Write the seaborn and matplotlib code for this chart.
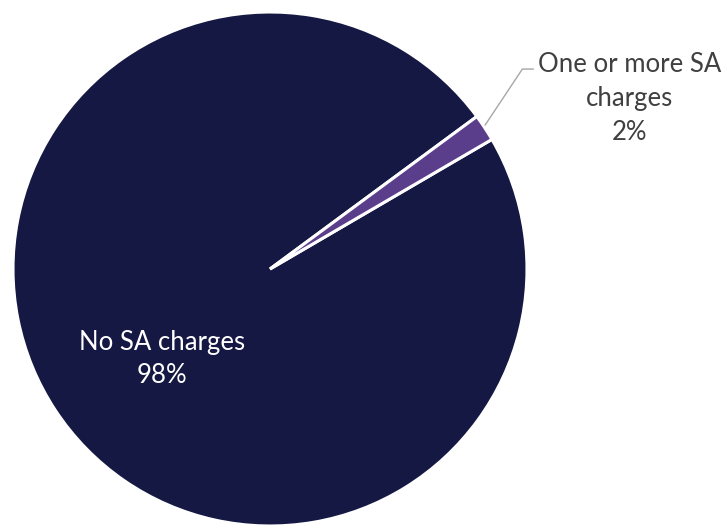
import matplotlib
matplotlib.use("Agg")
import matplotlib.pyplot as plt
import seaborn as sns

categories = ["No SA charges", "One or more SA charges"]
values = [98.3, 1.7]
display_labels = ["No SA charges\n98%", "One or more SA\ncharges\n2%"]
colors = ["#151843", "#5b3e8b"]

sns.set_theme(style="white")
plt.rcParams['font.family'] = ['Lato', 'DejaVu Sans']

fig = plt.figure(figsize=(7.28, 5.25), dpi=100)
W, H = 728, 525
cx, cy, r = 270, 269, 257
ax = fig.add_axes([(cx - r) / W, (H - cy - r) / H, 2 * r / W, 2 * r / H])

wedges, _ = ax.pie(values, colors=colors, startangle=36.4, counterclock=True,
                   radius=1.0, center=(0, 0),
                   wedgeprops=dict(edgecolor='white', linewidth=2.2))
for w in wedges:
    w.set_clip_on(False)
ax.set_xlim(-1, 1)
ax.set_ylim(-1, 1)
ax.set_aspect('equal')
ax.axis('off')

ax.text(-0.42, -0.35, display_labels[0], ha='center', va='center',
        color='white', fontsize=18.5, linespacing=1.38)

ax.plot([0.837, 0.982, 1.025], [0.560, 0.778, 0.778], color='#a6a6a6',
        linewidth=1.0, clip_on=False)
ax.text(1.40, 0.665, display_labels[1], ha='center', va='center',
        color='#404040', fontsize=18.5, linespacing=1.45, clip_on=False)

fig.savefig("out.png", dpi=100)
